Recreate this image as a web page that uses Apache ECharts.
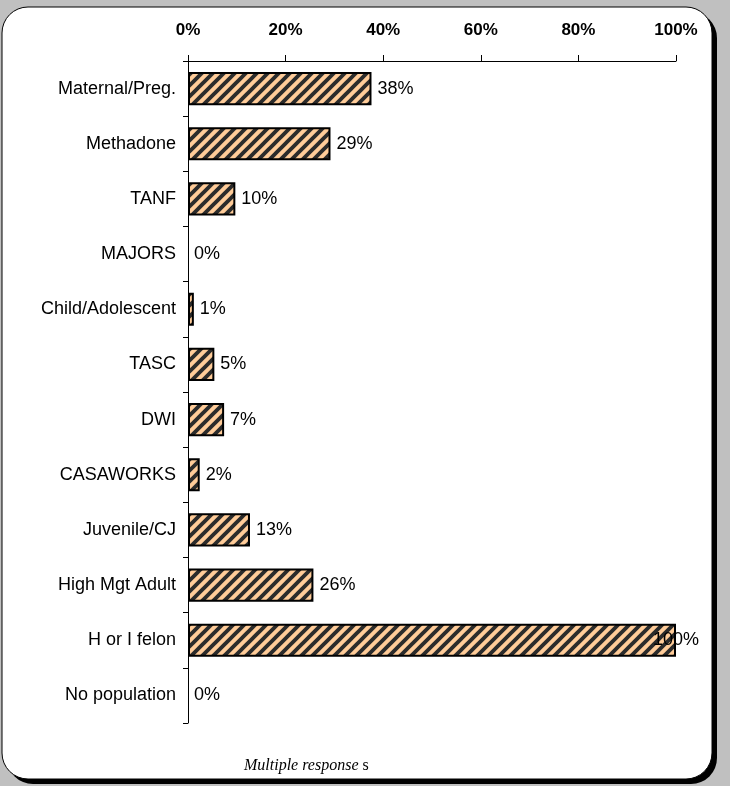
<!DOCTYPE html>
<html>
<head>
<meta charset="utf-8">
<script src="https://cdn.jsdelivr.net/npm/echarts@6/dist/echarts.min.js"></script>
<style>
html,body{margin:0;padding:0;background:#c0c0c0;}
#chart{width:730px;height:786px;}
</style>
</head>
<body>
<div id="chart"></div>
<script>
const categories = ['Maternal/Preg.', 'Methadone', 'TANF', 'MAJORS', 'Child/Adolescent', 'TASC', 'DWI', 'CASAWORKS', 'Juvenile/CJ', 'High Mgt Adult', 'H or I felon', 'No population'];
const values = [37.6, 29.2, 9.7, 0, 1.2, 5.4, 7.4, 2.4, 12.7, 25.7, 100, 0];
const xTicks = [0, 20, 40, 60, 80, 100];
const footnoteItalic = 'Multiple response';
const footnoteTail = ' s';

// hatch pattern
const T = 11;
const pc = document.createElement('canvas');
pc.width = T; pc.height = T;
const g = pc.getContext('2d');
g.fillStyle = '#ffcc99';
g.fillRect(0, 0, T, T);
g.strokeStyle = '#2b2b2b';
g.lineWidth = 3.8;
for (const k of [0, 1, 2]) {
  g.beginPath();
  g.moveTo(-3, k * T + 3);
  g.lineTo(k * T + 3, -3);
  g.stroke();
}

const chart = echarts.init(document.getElementById('chart'), null, {renderer: 'canvas'});

const data = values.map(v => {
  const item = {value: v};
  if (v === 0) item.itemStyle = {borderWidth: 0};
  if (v >= 100) item.label = {distance: -23};
  return item;
});

const sans = 'Liberation Sans, Arial, sans-serif';
const serif = '"Liberation Serif", "Times New Roman", serif';

chart.setOption({
  backgroundColor: '#c0c0c0',
  animation: false,
  graphic: [
    {type: 'rect', shape: {x: 7, y: 12, width: 710, height: 772, r: 26}, style: {fill: '#000'}, z: -10},
    {type: 'rect', shape: {x: 2, y: 7, width: 710, height: 772, r: 26}, style: {fill: '#fff', stroke: '#000', lineWidth: 1}, z: -9},
    {type: 'text', left: 244, top: 758, style: {
      text: '{a|' + footnoteItalic + '}{b|' + footnoteTail + '}',
      rich: {
        a: {fontFamily: serif, fontStyle: 'italic', fontSize: 16, fill: '#000'},
        b: {fontFamily: serif, fontSize: 16, fill: '#000'}
      }
    }}
  ],
  grid: {left: 188, right: 54, top: 61, bottom: 63, containLabel: false},
  xAxis: {
    type: 'value',
    position: 'top',
    min: 0, max: 100, interval: 20,
    axisLine: {show: true, lineStyle: {color: '#000', width: 1}},
    axisTick: {show: true, length: 6, lineStyle: {color: '#000'}},
    splitLine: {show: false},
    axisLabel: {
      margin: 22,
      color: '#000',
      fontFamily: sans,
      fontWeight: 'bold',
      fontSize: 17,
      formatter: v => xTicks.includes(v) ? v + '%' : ''
    }
  },
  yAxis: {
    type: 'category',
    data: categories,
    inverse: true,
    axisLine: {show: true, lineStyle: {color: '#000', width: 1}},
    axisTick: {show: true, length: 5, lineStyle: {color: '#000'}},
    axisLabel: {
      margin: 12,
      color: '#000',
      fontFamily: sans,
      fontSize: 18
    }
  },
  series: [{
    type: 'bar',
    data: data,
    barWidth: '60%',
    itemStyle: {
      color: {image: pc, repeat: 'repeat'},
      borderColor: '#000',
      borderWidth: 2
    },
    label: {
      show: true,
      position: 'right',
      distance: 6,
      color: '#000',
      fontFamily: sans,
      fontSize: 18,
      formatter: p => Math.round(p.value) + '%'
    }
  }]
});
</script>
</body>
</html>
